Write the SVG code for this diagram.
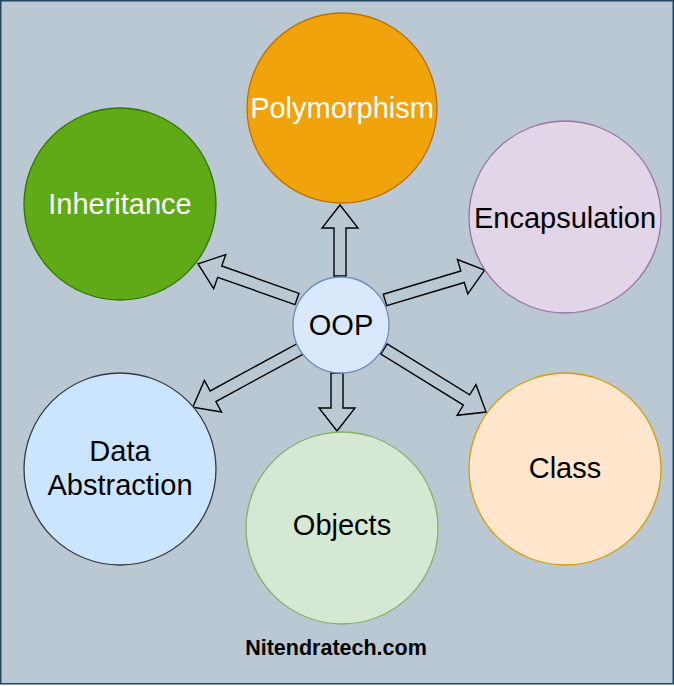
<svg xmlns="http://www.w3.org/2000/svg" width="674" height="686" viewBox="0 0 674 686">
<style>
.t{font-family:"Liberation Sans",Arial,Helvetica,sans-serif;font-size:29px;text-anchor:middle}
.w{fill:#ffffff}
.k{fill:#000000}
.arr{fill:none;stroke:#000000;stroke-width:1.4;stroke-linejoin:miter}
.c{stroke-width:1.3}
</style>
<rect x="0.75" y="0.75" width="672.5" height="683" fill="#bac8d3" stroke="#23445d" stroke-width="1.5"/>
<g id="connectors">
<path class="arr" transform="translate(340,276) rotate(-90)" d="M0,-6 H48 V-18 L71,0 L48,18 V6 H0 Z"/>
<path class="arr" transform="translate(297,299) rotate(199.5)" d="M0,-6 H82 V-18 L105,0 L82,18 V6 H0 Z"/>
<path class="arr" transform="translate(385,300) rotate(-16.7)" d="M0,-6 H81 V-18 L104,0 L81,18 V6 H0 Z"/>
<path class="arr" transform="translate(384,349) rotate(31.7)" d="M0,-6 H97 V-18 L120,0 L97,18 V6 H0 Z"/>
<path class="arr" transform="translate(300,349) rotate(151.5)" d="M0,-6 H99 V-18 L122,0 L99,18 V6 H0 Z"/>
<path class="arr" transform="translate(337,373) rotate(90)" d="M0,-6 H35 V-18 L58,0 L35,18 V6 H0 Z"/>
</g>
<g id="polymorphism">
<circle class="c" cx="342" cy="108" r="95" fill="#f0a30a" stroke="#bd7000"/>
<text class="t w" x="342" y="118">Polymorphism</text>
</g>
<g id="inheritance">
<circle class="c" cx="120" cy="204" r="96" fill="#60a917" stroke="#2d7600"/>
<text class="t w" x="120" y="214">Inheritance</text>
</g>
<g id="encapsulation">
<circle class="c" cx="565" cy="217" r="96" fill="#e1d5e7" stroke="#9673a6"/>
<text class="t k" x="565" y="228">Encapsulation</text>
</g>
<g id="oop">
<circle class="c" cx="341" cy="325" r="48" fill="#dae8fc" stroke="#6c8ebf"/>
<text class="t k" x="341" y="335">OOP</text>
</g>
<g id="data-abstraction">
<circle class="c" cx="120" cy="469" r="96" fill="#cce5ff" stroke="#36393d"/>
<text class="t k" x="120" y="461">Data</text>
<text class="t k" x="120" y="495">Abstraction</text>
</g>
<g id="objects">
<circle class="c" cx="342" cy="528" r="96" fill="#d5e8d4" stroke="#82b366"/>
<text class="t k" x="342" y="535">Objects</text>
</g>
<g id="class">
<circle class="c" cx="565" cy="469" r="96" fill="#ffe6cc" stroke="#d79b00"/>
<text class="t k" x="565" y="478">Class</text>
</g>
<text x="336" y="655" font-family="'Liberation Sans',Arial,Helvetica,sans-serif" font-size="21.5" font-weight="bold" text-anchor="middle" fill="#000000">Nitendratech.com</text>
</svg>
